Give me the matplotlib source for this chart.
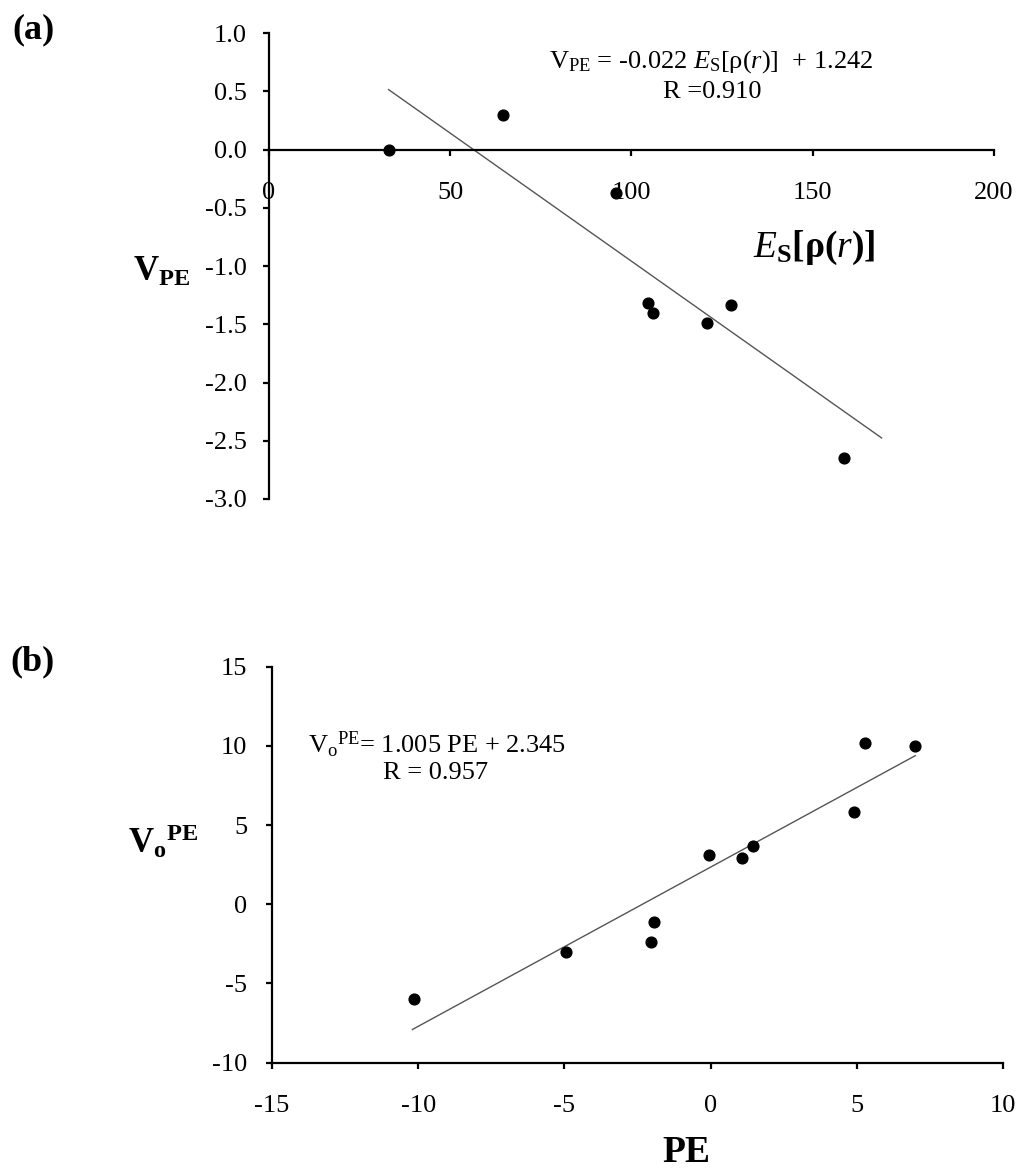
import numpy as np
import matplotlib
matplotlib.use('Agg')
import matplotlib.pyplot as plt

plt.rcParams['font.family'] = ['Liberation Serif', 'DejaVu Serif']
plt.rcParams['mathtext.fontset'] = 'custom'
plt.rcParams['mathtext.rm'] = 'Liberation Serif'
plt.rcParams['mathtext.it'] = 'Liberation Serif:italic'
plt.rcParams['mathtext.bf'] = 'Liberation Serif:bold'
plt.rcParams['axes.unicode_minus'] = False

# panel (a): V_PE vs Es[rho(r)]
es_rho = [33, 64.5, 95.7, 104.6, 105.9, 120.7, 127.4, 158.7]
v_pe = [0.0, 0.30, -0.37, -1.32, -1.40, -1.49, -1.33, -2.65]
fit_a = (-0.022, 1.242)
fit_a_range = [33, 169]

# panel (b): Vo_PE vs PE
pe = [5.27, 7.0, 4.9, 1.46, 1.06, -0.04, -1.95, -2.05, -4.95, -10.13]
vo_pe = [10.2, 10.0, 5.8, 3.7, 2.9, 3.1, -1.1, -2.4, -3.0, -6.0]
fit_b = (1.005, 2.345)
fit_b_range = [-10.2, 7.0]

W, H = 1020, 1171
fig = plt.figure(figsize=(W / 100, H / 100), dpi=100)


def px(x, y):
    return x / W, 1 - y / H


def style_axes(ax, xpad, ypad):
    for s in ['top', 'right']:
        ax.spines[s].set_visible(False)
    for s in ['left', 'bottom']:
        ax.spines[s].set_linewidth(1.6)
    ax.tick_params(axis='both', direction='out', length=4.5, width=1.6,
                   labelsize=19, colors='black')
    ax.tick_params(axis='x', pad=xpad)
    ax.tick_params(axis='y', pad=ypad)


# ---- (a)
ax1 = fig.add_axes([0.2637, 0.5739, 0.7108, 0.3977])
ax1.scatter(es_rho, v_pe, s=60, color='black', zorder=3)
xa = np.array(fit_a_range)
ax1.plot(xa, fit_a[0] * xa + fit_a[1], color='#555555', lw=1.0)
ax1.set_xlim(0, 200)
ax1.set_ylim(-3, 1)
ax1.set_xticks([0, 50, 100, 150, 200])
ax1.set_yticks(np.arange(-3, 1.01, 0.5))
ax1.set_yticklabels([f'{v:.1f}' for v in np.arange(-3, 1.01, 0.5)])
ax1.spines['bottom'].set_position(('data', 0))
style_axes(ax1, 18.5, 11.5)

fig.text(*px(711, 62), r'V$_\mathrm{PE}$ = -0.022 $\mathit{E}_\mathrm{S}$[ρ($\mathit{r}$)]  + 1.242',
         fontsize=19, ha='center', va='center')
fig.text(*px(712, 92), 'R =0.910', fontsize=19, ha='center', va='center')
fig.text(*px(814, 248), r'$\mathit{E}_\mathbf{S}\mathbf{[ρ(}\mathit{r}\mathbf{)]}$',
         fontsize=27, ha='center', va='center')
fig.text(*px(162, 272), r'$\mathbf{V}_\mathbf{PE}$', fontsize=25, ha='center', va='center')
fig.text(*px(33, 30), '(a)', fontsize=26, fontweight='bold', ha='center', va='center')

# ---- (b)
ax2 = fig.add_axes([0.2667, 0.0925, 0.7166, 0.3382])
ax2.scatter(pe, vo_pe, s=60, color='black', zorder=3)
xb = np.array(fit_b_range)
ax2.plot(xb, fit_b[0] * xb + fit_b[1], color='#555555', lw=1.0)
ax2.set_xlim(-15, 10)
ax2.set_ylim(-10, 15)
ax2.set_xticks([-15, -10, -5, 0, 5, 10])
ax2.set_yticks([-10, -5, 0, 5, 10, 15])
style_axes(ax2, 18.5, 13.5)

fig.text(*px(437, 745), r'V$_\mathrm{o}{}^\mathrm{PE}$= 1.005 PE + 2.345',
         fontsize=19, ha='center', va='center')
fig.text(*px(436, 773), 'R = 0.957', fontsize=19, ha='center', va='center')
fig.text(*px(163, 842), r'$\mathbf{V}_\mathbf{o}{}^\mathbf{PE}$', fontsize=25, ha='center', va='center')
fig.text(*px(686, 1153), 'PE', fontsize=27, fontweight='bold', ha='center', va='center')
fig.text(*px(33, 662), '(b)', fontsize=26, fontweight='bold', ha='center', va='center')

fig.savefig('out.png', dpi=100)
